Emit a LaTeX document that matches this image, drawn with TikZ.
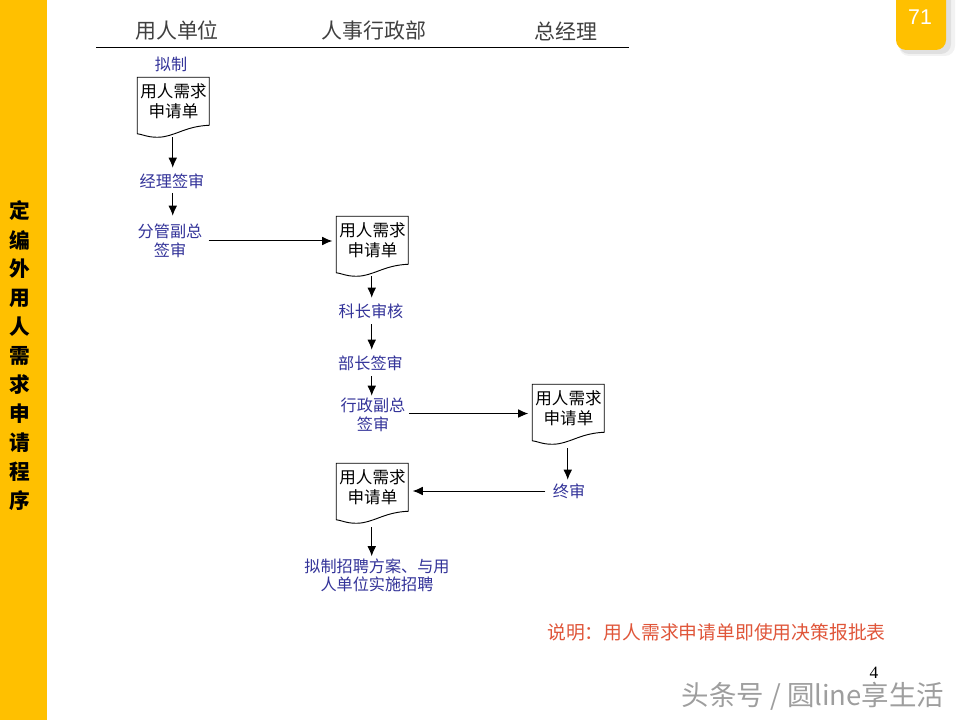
\documentclass[tikz,border=0pt]{standalone}
\usepackage{fontspec}
\usetikzlibrary{arrows.meta}
\setmainfont{Liberation Serif}
\newfontfamily\cjk{Noto Sans CJK SC}
\newfontfamily\arialf{Liberation Sans}
\definecolor{gold}{HTML}{FFC000}
\definecolor{stepblue}{HTML}{333399}
\definecolor{noteorange}{HTML}{E0563A}
\tikzset{
  x=0.75pt,y=-0.75pt,
  hdr/.style={font=\cjk\fontsize{15.7}{18}\selectfont,text=black!75,inner sep=0pt},
  lbl/.style={font=\cjk\fontsize{12.1}{13.9}\selectfont,text=stepblue,inner ysep=0pt,inner xsep=0pt,align=center,minimum height=19.5pt},
  docnode/.style={font=\cjk\fontsize{12.4}{15}\selectfont,text=black,inner sep=0pt,align=center,minimum width=54pt,minimum height=36pt},
  docline/.style={draw=black,line width=0.7pt,line join=miter},
  arr/.style={draw=black,line width=0.75pt,-{Latex[length=7.5pt,width=6.5pt]}},
  sidechar/.style={font=\cjk\bfseries\fontsize{15.5}{17}\selectfont,text=black,inner sep=0pt},
}
\newcommand{\docbox}[2]{%
  \node[docnode] (#1) at (#2) {用人需求\\申请单};
  \begin{scope}[shift={(#1.south west)}]
    \draw[docline] (0,-48) -- (72,-48) -- (72,0) .. controls (47,1) and (37,12) .. (20,12)
      .. controls (10,12) and (5,9) .. (0,8.5) -- cycle;
    \coordinate (#1-b) at (35.5,12);
  \end{scope}}
\begin{document}
\begin{tikzpicture}
\useasboundingbox (0,0) rectangle (960,720);
\fill[white] (0,0) rectangle (960,720);
% sidebar
\fill[gold] (0,0) rectangle (47,720);
\foreach \c/\y/\n in {定/211/a,编/240/b,外/269/c,用/298/d,人/327/e,需/356/f,求/385/g,申/414/h,请/443/i,程/472/j,序/501/k}
  \node[sidechar] (side\n) at (19.5,\y) {\c};
% badge
\begin{scope}
\clip (896,0) rectangle (960,70);
\fill[black,opacity=0.05,rounded corners=7.5pt] (899,-10) rectangle (955,56);
\fill[black,opacity=0.07,rounded corners=7.5pt] (899,-10) rectangle (951,54);
\fill[gold,rounded corners=7.5pt] (896,-12) rectangle (946,50);
\end{scope}
\node[font=\arialf\fontsize{16}{18}\selectfont,text=white,inner sep=0pt] (badge) at (920,17) {71};
% header
\node[hdr] (h1) at (177,31) {用人单位};
\node[hdr] (h2) at (374,31) {人事行政部};
\node[hdr] (h3) at (566,31) {总经理};
\coordinate (hl) at (96,48);
\coordinate (hr) at (629,48);
\draw[black,line width=0.75pt] (hl) -- (hr);
% flow
\node[lbl] (draft) at (171,64) {拟制};
\docbox{d1}{173.5,101}
\node[lbl] (s1) at (172,181) {经理签审};
\node[lbl,minimum height=37.5pt,inner xsep=4.5pt] (s2) at (170,241) {分管副总\\签审};
\docbox{d2}{372.5,240}
\node[lbl] (s3) at (371,311) {科长审核};
\node[lbl] (s4) at (370.5,363) {部长签审};
\node[lbl,minimum height=28.5pt,inner xsep=2.5pt] (s5) at (373,415) {行政副总\\签审};
\docbox{d3}{568.5,408}
\node[lbl,minimum height=16.5pt,inner xsep=5.5pt] (s6) at (569,491) {终审};
\docbox{d4}{372.5,487}
\node[lbl,minimum height=28.5pt] (s7) at (377,575.5) {拟制招聘方案、与用\\人单位实施招聘};
\draw[arr] (d1-b) -- (d1-b |- s1.north);
\draw[arr,shorten <=-1pt] (d1-b |- s1.south) -- (d1-b |- s2.north);
\draw[arr,shorten >=3pt] (s2.east) -- (d2.west |- s2.east);
\draw[arr] (d2-b) -- (d2-b |- s3.north);
\draw[arr] (d2-b |- s3.south) -- (d2-b |- s4.north);
\draw[arr] (d2-b |- s4.south) -- (d2-b |- s5.north);
\draw[arr,shorten >=3pt] ([yshift=1.1pt]s5.east) -- ([yshift=1.1pt]d3.west |- s5.east);
\draw[arr,shorten <=3pt] (d3-b) -- (d3-b |- s6.north);
\draw[arr,shorten >=3pt] (s6.west) -- (d4.east |- s6.west);
\draw[arr,shorten <=3pt] (d4-b) -- (d4-b |- s7.north);
% note and page
\node[font=\cjk\fontsize{14.1}{16}\selectfont,text=noteorange,inner sep=0pt] (note) at (716.5,632) {说明：用人需求申请单即使用决策报批表};
\node[font=\fontsize{13}{15}\selectfont,text=black,inner sep=0pt] (page) at (874,673) {4};
\node[font=\cjk\fontsize{20.6}{24}\selectfont,text=black!38,inner sep=0pt] (mark) at (813,696) {头条号 / 圆line享生活};
\end{tikzpicture}
\end{document}
